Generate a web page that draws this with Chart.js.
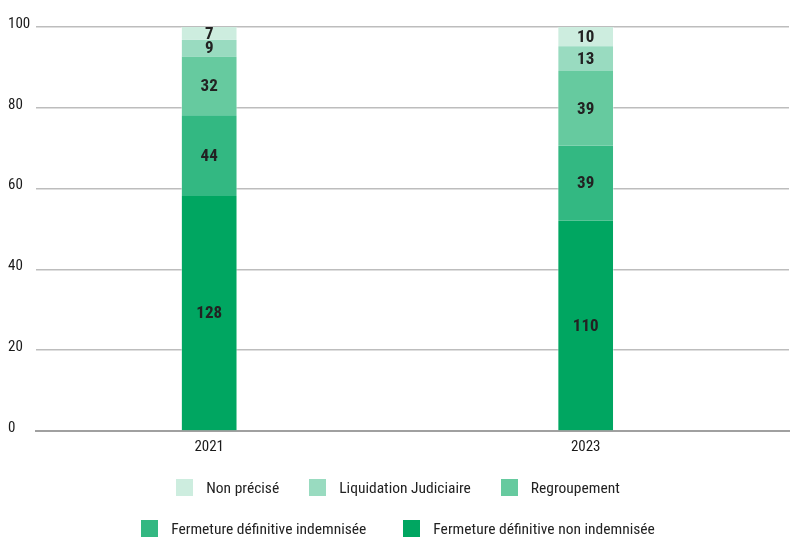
<!DOCTYPE html>
<html>
<head>
<meta charset="utf-8">
<script src="https://cdn.jsdelivr.net/npm/chart.js@4"></script>
<style>
  html, body { margin: 0; padding: 0; background: #fff; }
  #wrap { position: relative; width: 796px; height: 541px; }
  #legend { position: absolute; left: 0; top: 478px; width: 796px;
            font-family: 'Roboto Condensed', 'Roboto', sans-serif; font-size: 15.5px; color: #222; }
  .row { display: flex; justify-content: center; align-items: center; height: 19px; }
  .row1 { gap: 30px; }
  .row2 { gap: 37px; margin-top: 22px; }
  .item { display: flex; align-items: center; white-space: nowrap; }
  .box { width: 17px; height: 17px; margin-right: 13px; }
</style>
</head>
<body>
<div id="wrap">
  <canvas id="chart" width="796" height="541"></canvas>
  <div id="legend"></div>
</div>
<script>
document.addEventListener("DOMContentLoaded", function () {
    const FONT = "'Roboto Condensed', 'Roboto', sans-serif";

    // Donnees (nombre de cas par motif)
    const years = ["2021", "2023"];
    const nonIndemnisee = [128, 110];
    const indemnisee = [44, 39];
    const regroupement = [32, 39];
    const liquidation = [9, 13];
    const nonPrecise = [7, 10];
    const yTicks = [0, 20, 40, 60, 80, 100];

    // Series dans l'ordre d'empilement (bas -> haut)
    const series = [
        { label: "Fermeture définitive non indemnisée", data: nonIndemnisee, color: "#00a661" },
        { label: "Fermeture définitive indemnisée", data: indemnisee, color: "#33b882" },
        { label: "Regroupement", data: regroupement, color: "#66ca9f" },
        { label: "Liquidation Judiciaire", data: liquidation, color: "#99dbc0" },
        { label: "Non précisé", data: nonPrecise, color: "#cdeddf" }
    ];

    // Totaux par annee pour passer en pourcentage
    const totals = years.map((y, i) => series.reduce((s, d) => s + d.data[i], 0));

    const datasets = series.map(s => ({
        label: s.label,
        data: s.data.map((v, i) => ({ x: i, y: v / totals[i] * 100 })),
        counts: s.data,
        backgroundColor: s.color,
        borderColor: "rgba(255,255,255,0.35)",
        borderWidth: { left: 1, right: 1 },
        borderSkipped: false,
        barThickness: 56
    }));

    // Etiquettes de valeur au centre des segments
    const valueLabels = {
        id: "valueLabels",
        afterDatasetsDraw(chart) {
            const ctx = chart.ctx;
            ctx.save();
            ctx.font = "bold 17px " + FONT;
            ctx.fillStyle = "#222";
            ctx.textAlign = "center";
            ctx.textBaseline = "middle";
            chart.data.datasets.forEach((ds, di) => {
                const meta = chart.getDatasetMeta(di);
                meta.data.forEach((bar, i) => {
                    ctx.fillText(String(ds.counts[i]), bar.x, (bar.y + bar.base) / 2 + 1);
                });
            });
            ctx.restore();
        }
    };

    new Chart(document.getElementById("chart"), {
        type: "bar",
        data: { datasets: datasets },
        plugins: [valueLabels],
        options: {
            responsive: false,
            animation: false,
            layout: { padding: { left: 8, right: 7, top: 27, bottom: 80 } },
            plugins: {
                legend: { display: false },
                tooltip: { enabled: false }
            },
            scales: {
                x: {
                    type: "linear",
                    stacked: true,
                    offset: false,
                    min: -0.46,
                    max: 1.54,
                    afterBuildTicks: scale => { scale.ticks = years.map((y, i) => ({ value: i })); },
                    afterFit: scale => { scale.height = 30; },
                    grid: { display: false, drawTicks: false },
                    border: { display: true, color: "#a0a0a0", width: 2 },
                    ticks: {
                        padding: 7,
                        color: "#1a1a1a",
                        font: { family: FONT, size: 15 },
                        callback: v => years[v]
                    }
                },
                y: {
                    stacked: true,
                    min: 0,
                    max: 100,
                    afterBuildTicks: scale => { scale.ticks = yTicks.map(v => ({ value: v })); },
                    afterFit: scale => { scale.width = 28; },
                    grid: { color: "#bdbdbd", lineWidth: 1.5, drawTicks: false },
                    border: { display: false },
                    ticks: {
                        crossAlign: "far",
                        padding: 6,
                        labelOffset: -3,
                        color: "#1a1a1a",
                        font: { family: FONT, size: 15 }
                    }
                }
            }
        }
    });

    // Legende HTML sur deux lignes
    const legendRows = [
        [series[4], series[3], series[2]],
        [series[1], series[0]]
    ];
    const legend = document.getElementById("legend");
    legendRows.forEach((row, r) => {
        const div = document.createElement("div");
        div.className = "row row" + (r + 1);
        row.forEach(s => {
            const item = document.createElement("div");
            item.className = "item";
            const box = document.createElement("span");
            box.className = "box";
            box.style.background = s.color;
            item.appendChild(box);
            item.appendChild(document.createTextNode(s.label));
            div.appendChild(item);
        });
        legend.appendChild(div);
    });
});
</script>
</body>
</html>
